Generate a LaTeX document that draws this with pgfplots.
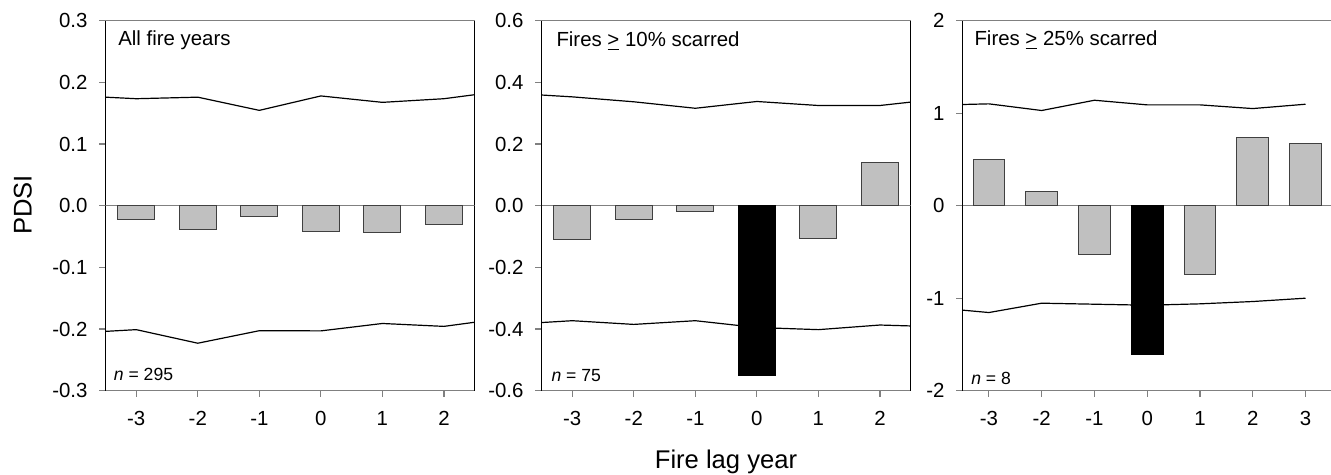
\documentclass[border=0pt]{standalone}
\usepackage{fontspec}
\setmainfont{Liberation Sans}
\usepackage{pgfplots}
\pgfplotsset{compat=1.18}
\definecolor{axgray}{HTML}{808080}
\definecolor{barfill}{HTML}{C0C0C0}
\definecolor{baredge}{HTML}{404040}
\newcommand{\tickfont}{\fontsize{10.2bp}{12bp}\selectfont}
\newcommand{\nfont}{\fontsize{8.8bp}{10bp}\selectfont}
\newcommand{\labfont}{\fontsize{12.8bp}{15bp}\selectfont}
\pgfplotsset{
  panel/.style={
    scale only axis, width=184.6bp, height=185bp, anchor=south west,
    separate axis lines,
    x axis line style={draw=axgray, line width=0.6bp},
    y axis line style={draw=black, line width=0.6bp},
    tick align=inside, xtick pos=bottom, ytick pos=left,
    major tick length=-3.3bp,
    tick style={draw=axgray, line width=0.6bp},
    xtick={-3,...,3},
    tick label style={font=\tickfont, inner sep=0pt},
    /pgf/number format/assume math mode=true,
    xticklabel style={anchor=base, yshift=-17.2bp},
    yticklabel style={anchor=east, xshift=-8.8bp},
    clip=true,
  },
  cline/.style={black, line width=0.6bp, no markers},
  zline/.style={axgray, line width=0.6bp, no markers},
  gbar/.style={ybar, bar width=0.6, bar shift=0pt, fill=barfill, draw=baredge, line width=0.5bp},
  kbar/.style={ybar, bar width=0.6, bar shift=0pt, fill=black, draw=black, line width=0.5bp},
}
\begin{document}
\begin{tikzpicture}
% Panel 1
\begin{axis}[panel, at={(52.75bp,42.15bp)},
  xmin=-3.5, xmax=2.5, ymin=-0.3, ymax=0.3, ytick={-0.3,-0.2,...,0.31},
  yticklabel style={/pgf/number format/.cd, fixed, fixed zerofill, precision=1}]
\addplot[zline] coordinates {(-3.5,0) (2.5,0)};
\addplot[cline] coordinates {(-3.5,0.176) (-3,0.1735) (-2,0.176) (-1,0.1546) (0,0.178) (1,0.1676) (2,0.1735) (2.5,0.180)};
\addplot[cline] coordinates {(-3.5,-0.2038) (-3,-0.201) (-2,-0.223) (-1,-0.2027) (0,-0.203) (1,-0.191) (2,-0.1957) (2.5,-0.189)};
\addplot[gbar] coordinates {(-3,-0.022) (-2,-0.039) (-1,-0.017) (0,-0.042) (1,-0.044) (2,-0.030)};
\node[anchor=base west, font=\tickfont, inner sep=0pt, xshift=6.2bp, yshift=-12.5bp] at (rel axis cs:0,1) {All fire years};
\node[anchor=base west, font=\nfont, inner sep=0pt, xshift=4bp, yshift=4.9bp] at (rel axis cs:0,0) {\textit{n} = 295};
\end{axis}
% Panel 2
\begin{axis}[panel, at={(270.75bp,42.15bp)},
  xmin=-3.5, xmax=2.5, ymin=-0.6, ymax=0.6, ytick={-0.6,-0.4,...,0.61},
  yticklabel style={/pgf/number format/.cd, fixed, fixed zerofill, precision=1}]
\addplot[zline] coordinates {(-3.5,0) (2.5,0)};
\addplot[cline] coordinates {(-3.5,0.359) (-3,0.353) (-2,0.337) (-1,0.316) (0,0.338) (1,0.325) (2,0.325) (2.5,0.336)};
\addplot[cline] coordinates {(-3.5,-0.379) (-3,-0.373) (-2,-0.385) (-1,-0.373) (0,-0.395) (1,-0.402) (2,-0.387) (2.5,-0.390)};
\addplot[gbar] coordinates {(-3,-0.110) (-2,-0.0435) (-1,-0.0174) (1,-0.1065) (2,0.140)};
\addplot[kbar] coordinates {(0,-0.550)};
\node[anchor=base west, font=\tickfont, inner sep=0pt, xshift=7.3bp, yshift=-13bp] at (rel axis cs:0,1) {Fires \underline{>} 10\% scarred};
\node[anchor=base west, font=\nfont, inner sep=0pt, xshift=4.8bp, yshift=4.5bp] at (rel axis cs:0,0) {\textit{n} = 75};
\end{axis}
% Panel 3
\begin{axis}[panel, at={(481.25bp,42.15bp)}, width=184.7bp,
  xmin=-3.5, xmax=3.5, ymin=-2, ymax=2, ytick={-2,-1,0,1,2}]
\addplot[zline] coordinates {(-3.5,0) (3.5,0)};
\addplot[cline] coordinates {(-3.5,1.094) (-3,1.101) (-2,1.029) (-1,1.140) (0,1.090) (1,1.090) (2,1.050) (3,1.097)};
\addplot[cline] coordinates {(-3.5,-1.129) (-3,-1.155) (-2,-1.054) (-1,-1.065) (0,-1.076) (1,-1.061) (2,-1.036) (3,-1.0)};
\addplot[gbar] coordinates {(-3,0.496) (-2,0.155) (-1,-0.532) (1,-0.741) (2,0.734) (3,0.669)};
\addplot[kbar] coordinates {(0,-1.612)};
\node[anchor=base west, font=\tickfont, inner sep=0pt, xshift=5.8bp, yshift=-12.3bp] at (rel axis cs:0,1) {Fires \underline{>} 25\% scarred};
\node[anchor=base west, font=\nfont, inner sep=0pt, xshift=4.2bp, yshift=2.9bp] at (rel axis cs:0,0) {\textit{n} = 8};
\end{axis}
\node[rotate=90, anchor=base, font=\labfont, inner sep=0pt] at (15.85bp,135bp) {PDSI};
\node[anchor=base, font=\labfont, inner sep=0pt] at (363bp,3.35bp) {Fire lag year};
\pgfresetboundingbox
\useasboundingbox (0,0) rectangle (665.5bp,237.5bp);
\end{tikzpicture}
\end{document}
